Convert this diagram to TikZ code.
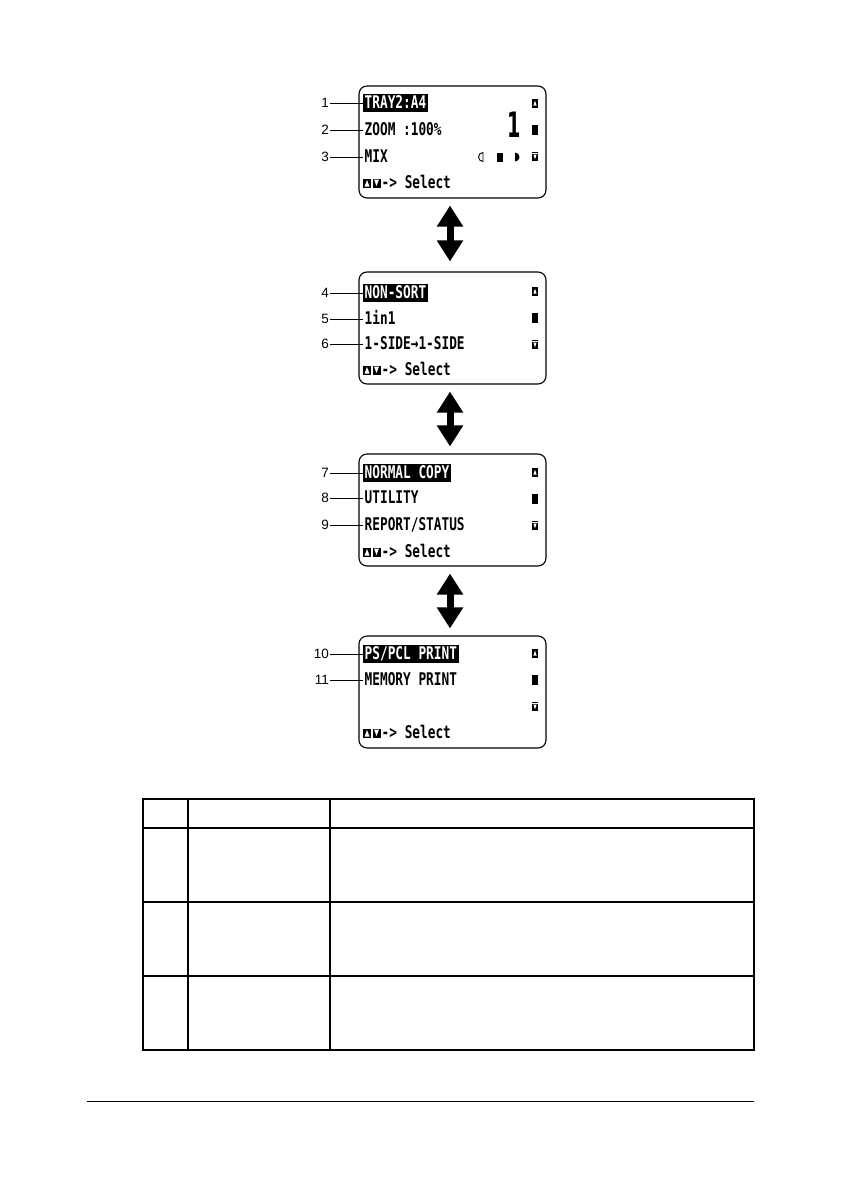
\documentclass[tikz,border=0pt]{standalone}
\usepackage{fontspec}
\setmainfont{Liberation Sans}
\newfontfamily\lcd[FakeStretch=0.73]{DejaVu Sans Mono}
\newfontfamily\lcdbig[FakeStretch=0.55]{DejaVu Sans}
\usetikzlibrary{arrows.meta}
\tikzset{
  screen/.style={draw, line width=1.1pt, rounded corners=8pt, minimum width=187pt, minimum height=112pt, inner sep=0pt},
  lcdtxt/.style={anchor=west, inner sep=1.5pt, text height=13pt, text depth=2pt, font=\lcd\bfseries\fontsize{17.5}{18}\selectfont},
  hl/.style={lcdtxt, fill=black, text=white},
  lbl/.style={anchor=east, inner sep=1pt, font=\fontsize{13.5}{14}\selectfont},
  leader/.style={line width=0.8pt},
  dbl/.style={line width=7pt, {Triangle[width=25pt,length=21pt]}-{Triangle[width=25pt,length=21pt]}},
  grid/.style={line width=1.2pt},
  scrollbar/.pic={
    \fill (-3,13) rectangle (3,20.5);
    \fill[white] (-1.6,19.5) -- (0,14.5) -- (1.6,19.5) -- cycle;
    \draw[line width=0.8pt] (-3,21.5) -- (3,21.5);
    \fill (-3,39) rectangle (3,49);
    \draw[line width=0.8pt] (-3,66.5) -- (3,66.5);
    \fill (-3,67.5) rectangle (3,75);
    \fill[white] (-1.6,68.5) -- (0,73.5) -- (1.6,68.5) -- cycle;
  },
  selkeys/.pic={
    \fill (0,-4.5) rectangle (8,4.5);
    \fill[white] (1.5,3.5) -- (4,-3) -- (6.5,3.5) -- cycle;
    \fill (9.5,-4.5) rectangle (17.5,4.5);
    \fill[white] (11,-3.5) -- (13.5,3) -- (16,-3.5) -- cycle;
  }
}
\begin{document}
\begin{tikzpicture}[x=1pt,y=-1pt]
\useasboundingbox (0,0) rectangle (842,1191);

% ---------- screen 1 ----------
\node[screen] (s1) at (452.5,142) {};
\node[hl] (t1) at (363,103) {TRAY2:A4};
\node[lcdtxt] (t2) at (363,130) {ZOOM :100\%};
\node[lcdtxt] (t3) at (363,157) {MIX};
\pic at (363,183) {selkeys};
\node[lcdtxt] (sel1) at (380,183) {-> Select};
\pic at (535,86) {scrollbar};
\node[inner sep=0pt, font=\lcdbig\bfseries\fontsize{35}{35}\selectfont] (big1) at (514,125) {1};
\draw[line width=0.9pt] (483,161.5) arc[start angle=90,end angle=270,radius=4.5] -- cycle;
\fill (497,152.5) rectangle (503,161.5);
\fill (515,152.5) arc[start angle=-90,end angle=90,radius=4.5] -- cycle;
\node[lbl] (n1) at (330,103) {1};
\node[lbl] (n2) at (330,130) {2};
\node[lbl] (n3) at (330,157) {3};
\draw[leader] (n1.east) -- (t1.west);
\draw[leader] (n2.east) -- (t2.west);
\draw[leader] (n3.east) -- (t3.west);

% ---------- screen 2 ----------
\node[screen] (s2) at (452.5,328) {};
\node[hl] (t4) at (363,293) {NON-SORT};
\node[lcdtxt] (t5) at (363,319) {1in1};
\node[lcdtxt] (t6) at (363,344) {1-SIDE→1-SIDE};
\pic at (363,370) {selkeys};
\node[lcdtxt] (sel2) at (380,370) {-> Select};
\pic at (535,274) {scrollbar};
\node[lbl] (n4) at (330,293) {4};
\node[lbl] (n5) at (330,319) {5};
\node[lbl] (n6) at (330,344) {6};
\draw[leader] (n4.east) -- (t4.west);
\draw[leader] (n5.east) -- (t5.west);
\draw[leader] (n6.east) -- (t6.west);

% ---------- screen 3 ----------
\node[screen] (s3) at (452.5,510) {};
\node[hl] (t7) at (363,473) {NORMAL COPY};
\node[lcdtxt] (t8) at (363,498) {UTILITY};
\node[lcdtxt] (t9) at (363,525) {REPORT/STATUS};
\pic at (363,552) {selkeys};
\node[lcdtxt] (sel3) at (380,552) {-> Select};
\pic at (535,455) {scrollbar};
\node[lbl] (n7) at (330,473) {7};
\node[lbl] (n8) at (330,498) {8};
\node[lbl] (n9) at (330,525) {9};
\draw[leader] (n7.east) -- (t7.west);
\draw[leader] (n8.east) -- (t8.west);
\draw[leader] (n9.east) -- (t9.west);

% ---------- screen 4 ----------
\node[screen] (s4) at (452.5,692) {};
\node[hl] (t10) at (363,654) {PS/PCL PRINT};
\node[lcdtxt] (t11) at (363,680) {MEMORY PRINT};
\pic at (363,733) {selkeys};
\node[lcdtxt] (sel4) at (380,733) {-> Select};
\pic at (535,636) {scrollbar};
\node[lbl] (n10) at (330,654) {10};
\node[lbl] (n11) at (330,680) {11};
\draw[leader] (n10.east) -- (t10.west);
\draw[leader] (n11.east) -- (t11.west);

% ---------- double arrows ----------
\draw[dbl] ([xshift=-2.5pt,yshift=-7pt]s1.south) -- ([xshift=-2.5pt,yshift=10pt]s2.north);
\draw[dbl] ([xshift=-2.5pt,yshift=-7pt]s2.south) -- ([xshift=-2.5pt,yshift=7pt]s3.north);
\draw[dbl] ([xshift=-2.5pt,yshift=-7pt]s3.south) -- ([xshift=-2.5pt,yshift=7pt]s4.north);

% ---------- table ----------
\draw[grid] (143,799) rectangle (754,1050);
\foreach \yy in {828,902,976} \draw[grid] (143,\yy) -- (754,\yy);
\foreach \xx in {188,330} \draw[grid] (\xx,799) -- (\xx,1050);

% ---------- footer rule ----------
\draw[line width=1pt] (87,1101) -- (754,1101);
\end{tikzpicture}
\end{document}
